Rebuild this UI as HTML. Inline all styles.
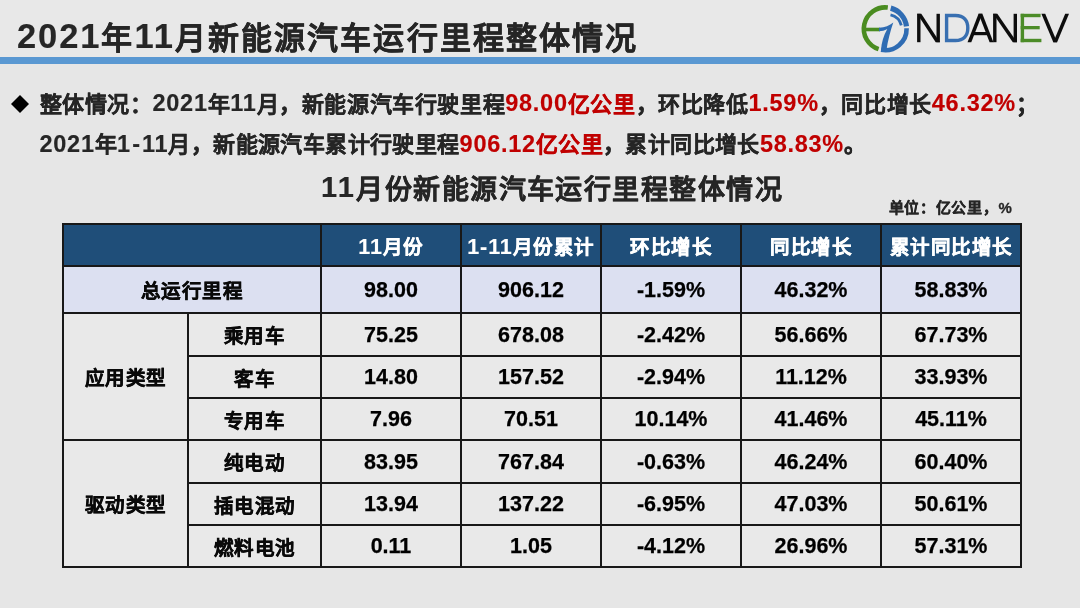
<!DOCTYPE html>
<html lang="zh-CN">
<head>
<meta charset="utf-8">
<title>2021年11月新能源汽车运行里程整体情况</title>
<style>
  html, body { margin: 0; padding: 0; }
  body {
    width: 1080px; height: 608px; overflow: hidden; position: relative;
    background: #e6e6e6;
    font-family: "Liberation Sans", sans-serif;
    font-weight: bold;
    color: #262626;
  }
  #slide { position: absolute; left: 0; top: 0; width: 1080px; height: 608px; will-change: transform; }
  .abs { position: absolute; white-space: nowrap; }
  h1, h2, p.line, .unit { text-align: justify; text-align-last: justify; }
  h1, h2, p.line, .unit { -webkit-text-stroke: 0.3px currentColor; }
  th { -webkit-text-stroke: 0.45px currentColor; }
  .n { -webkit-text-stroke: 0.15px currentColor; }
  td.num { -webkit-text-stroke: 0.25px currentColor; color: #000; }
  .topband { left: 0; top: 0; width: 1080px; height: 58px; background: #e8e8e8; }
  .rule { left: 0; top: 57px; width: 1080px; height: 6.7px; background: #5a98d2; }
  h1 {
    margin: 0; left: 17px; top: 17px; font-size: 31px; line-height: 40px; font-weight: bold;
    letter-spacing: 2.12px; color: #262626;
  }
  h1 .n { font-size: 34.5px; letter-spacing: 1.9px; position: relative; top: -1.5px; }
  .bullet { left: 10.5px; top: 94.5px; width: 18px; height: 18px; }
  p.line { margin: 0; left: 39.5px; font-size: 22px; line-height: 30px; letter-spacing: 0.6px; }
  p.line .n { font-size: 23.5px; letter-spacing: 0.73px; position: relative; top: -0.5px; }
  p.line .hy { margin: 0 1.3px; }
  .red { color: #c00000; }
  h2 {
    margin: 0; left: 321px; top: 171px; font-size: 27px; line-height: 36px; font-weight: bold;
    letter-spacing: 1.45px; color: #262626;
  }
  h2 .n { font-size: 29px; letter-spacing: 2.3px; position: relative; top: -2px; }
  .unit { left: 888.5px; top: 198px; font-size: 15px; line-height: 20px; letter-spacing: 0.7px; color: #262626; }

  table {
    position: absolute; left: 62px; top: 223px;
    border-collapse: collapse; table-layout: fixed;
    width: 958px;
    font-size: 20px; color: #0a0a0a;
  }
  td, th {
    border: 2px solid #181818; padding: 0; text-align: center; vertical-align: middle;
    font-weight: bold; box-sizing: border-box; background: #e9e9e9; line-height: 26px;
  }
  td.num { font-size: 21.5px; }
  th { padding-top: 3px; font-size: 19.5px; letter-spacing: 0.5px; }
  thead th { padding-top: 4.5px; }
  th .n { font-size: 21.5px; letter-spacing: 0.9px; }
  thead th { background: #1f4e79; color: #fff; }
  tr.total td, tr.total th { background: #dce0f1; }
</style>
</head>
<body>
 <div id="slide">
  <div class="abs topband"></div>
  <h1 class="abs" style="width:621px"><span class="n">2021</span>年<span class="n">11</span>月新能源汽车运行里程整体情况</h1>

  <svg class="abs logo" style="left:855px;top:0" width="225" height="57" viewBox="855 0 225 57" role="img" aria-label="NDANEV"><title>NDANEV</title>
    <g fill="none" stroke-width="4.6">
      <path d="M887.81 7.56 A21.4 21.4 0 0 0 878.59 49.15" stroke="#4a8c20"/>
      <path d="M881.12 49.81 A21.4 21.4 0 0 0 906.59 28.24" stroke="#2f6cb3"/>
      <path d="M906.46 26.38 A21.4 21.4 0 0 0 890.74 8.13" stroke="#2f6cb3" stroke-width="5.2"/>
      <path d="M890.5 14.8 A14.5 14.5 0 0 1 901.3 25.4" stroke="#2f6cb3" stroke-width="2.8"/>
      <path d="M864 29.5 L880 29.5" stroke="#4a8c20" stroke-width="3.6"/>
    </g>
    <path d="M879 27.7 C885 27.4 889.5 25.5 893.3 22.4 C890.6 30.5 887.8 40 886.4 50.6 L881 50.2 C881.5 42 883.5 36 887.3 29 C884.5 30.6 882 31.2 879 31.3 Z" fill="#2f6cb3"/>
    <g><rect x="917.10" y="13.80" width="3.40" height="28.40" fill="#0d0d0d"/>
      <rect x="936.50" y="13.80" width="3.40" height="28.40" fill="#0d0d0d"/>
      <path d="M917.10 13.80 L921.30 13.80 L939.90 42.20 L935.70 42.20 Z" fill="#0d0d0d"/>
      <path d="M946.6 15.5 H955.5 C963.8 15.5 967.8 20.6 967.8 28 C967.8 35.4 963.8 40.5 955.5 40.5 H946.6 Z" fill="none" stroke="#386fb1" stroke-width="3.4" stroke-linejoin="miter"/>
      <path d="M967.50 42.20 L971.30 42.20 L982.35 13.80 L978.55 13.80 Z" fill="#0d0d0d"/>
      <path d="M993.40 42.20 L989.60 42.20 L978.55 13.80 L982.35 13.80 Z" fill="#0d0d0d"/>
      <rect x="973.20" y="32.00" width="14.50" height="3.20" fill="#0d0d0d"/>
      <rect x="993.10" y="13.80" width="3.40" height="28.40" fill="#0d0d0d"/>
      <rect x="1013.60" y="13.80" width="3.40" height="28.40" fill="#0d0d0d"/>
      <path d="M993.10 13.80 L997.30 13.80 L1017.00 42.20 L1012.80 42.20 Z" fill="#0d0d0d"/>
      <rect x="1020.70" y="13.80" width="3.40" height="28.40" fill="#4c8c28"/>
      <rect x="1020.70" y="13.80" width="19.90" height="3.40" fill="#4c8c28"/>
      <rect x="1020.70" y="26.00" width="19.00" height="3.30" fill="#4c8c28"/>
      <rect x="1020.70" y="38.80" width="20.70" height="3.40" fill="#4c8c28"/>
      <path d="M1041.40 13.80 L1045.20 13.80 L1057.10 42.20 L1053.30 42.20 Z" fill="#0d0d0d"/>
      <path d="M1069.00 13.80 L1065.20 13.80 L1053.30 42.20 L1057.10 42.20 Z" fill="#0d0d0d"/></g>
  </svg>

  <div class="abs rule"></div>

  <svg class="abs bullet" viewBox="0 0 17 17"><path d="M8.5 0 L17 8.5 L8.5 17 L0 8.5 Z" fill="#000"/></svg>
  <p class="abs line" style="top:88.5px;width:998.5px">整体情况：<span class="n">2021</span>年<span class="n">11</span>月，新能源汽车行驶里程<span class="red"><span class="n">98.00</span>亿公里</span>，环比降低<span class="red n">1.59%</span>，同比增长<span class="red n">46.32%</span>；</p>
  <p class="abs line" style="top:129px;letter-spacing:0.4px;width:826.5px"><span class="n">2021</span>年<span class="n">1<span class="hy">-</span>11</span>月，新能源汽车累计行驶里程<span class="red"><span class="n">906.12</span>亿公里</span>，累计同比增长<span class="red n">58.83%</span>。</p>

  <h2 class="abs" style="width:461.5px"><span class="n">11</span>月份新能源汽车运行里程整体情况</h2>
  <div class="abs unit" style="width:123.5px">单位：亿公里，%</div>

  <table>
    <colgroup>
      <col style="width:125px"><col style="width:133px">
      <col style="width:140px"><col style="width:140px"><col style="width:140px"><col style="width:140px"><col style="width:140px">
    </colgroup>
    <thead>
      <tr style="height:42px"><th colspan="2"></th><th><span class="n">11</span>月份</th><th><span class="n">1-11</span>月份累计</th><th>环比增长</th><th>同比增长</th><th>累计同比增长</th></tr>
    </thead>
    <tbody>
      <tr class="total" style="height:47px"><th colspan="2">总运行里程</th><td class="num">98.00</td><td class="num">906.12</td><td class="num">-1.59%</td><td class="num">46.32%</td><td class="num">58.83%</td></tr>
      <tr style="height:43px"><th rowspan="3">应用类型</th><th>乘用车</th><td class="num">75.25</td><td class="num">678.08</td><td class="num">-2.42%</td><td class="num">56.66%</td><td class="num">67.73%</td></tr>
      <tr style="height:42px"><th>客车</th><td class="num">14.80</td><td class="num">157.52</td><td class="num">-2.94%</td><td class="num">11.12%</td><td class="num">33.93%</td></tr>
      <tr style="height:42px"><th>专用车</th><td class="num">7.96</td><td class="num">70.51</td><td class="num">10.14%</td><td class="num">41.46%</td><td class="num">45.11%</td></tr>
      <tr style="height:43px"><th rowspan="3">驱动类型</th><th>纯电动</th><td class="num">83.95</td><td class="num">767.84</td><td class="num">-0.63%</td><td class="num">46.24%</td><td class="num">60.40%</td></tr>
      <tr style="height:42px"><th>插电混动</th><td class="num">13.94</td><td class="num">137.22</td><td class="num">-6.95%</td><td class="num">47.03%</td><td class="num">50.61%</td></tr>
      <tr style="height:42px"><th>燃料电池</th><td class="num">0.11</td><td class="num">1.05</td><td class="num">-4.12%</td><td class="num">26.96%</td><td class="num">57.31%</td></tr>
    </tbody>
  </table>
 </div>
</body>
</html>
